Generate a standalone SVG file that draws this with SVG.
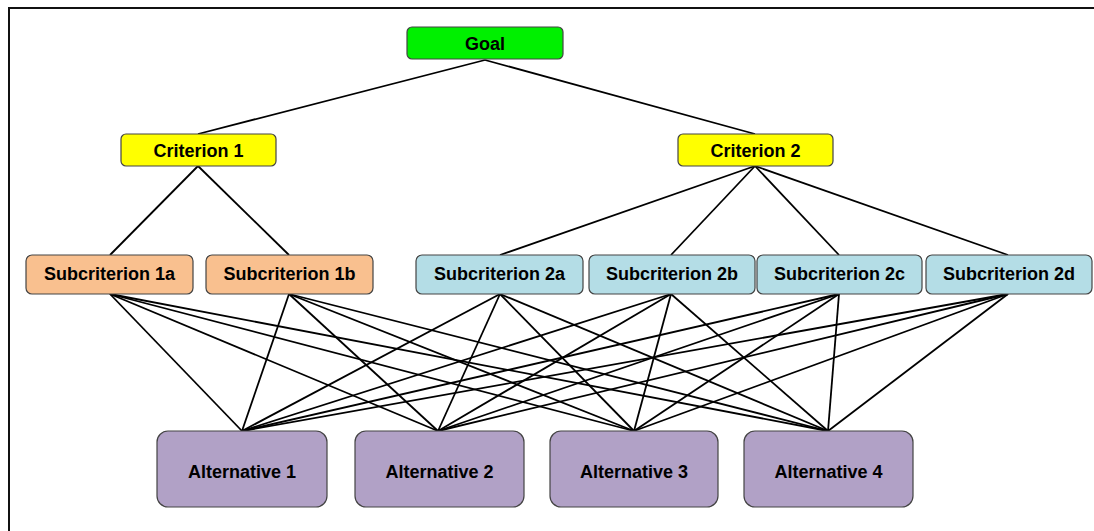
<svg xmlns="http://www.w3.org/2000/svg" width="1094" height="531" viewBox="0 0 1094 531">
  <style>
    .frame { fill: none; stroke: #111; stroke-width: 2; }
    .box { stroke: #444; stroke-width: 1.2; }
    .goal { fill: #00f000; }
    .crit { fill: #ffff00; }
    .sub1 { fill: #f9c08f; }
    .sub2 { fill: #b4dde6; }
    .alt { fill: #b1a1c6; }
    .label { font-family: "Liberation Sans", Arial, sans-serif; font-weight: bold; font-size: 18px; fill: #000; text-anchor: middle; }
    .edges line { stroke: #000; stroke-width: 1.8; }
  </style>
  <rect width="1094" height="531" fill="#fff"/>
  <path class="frame" d="M9,531 V8 H1094"/>

  <g class="edges" id="connectors">
    <!-- goal to criteria -->
    <line x1="485" y1="60" x2="198" y2="134"/>
    <line x1="485" y1="60" x2="755" y2="134"/>
    <!-- criterion 1 to its subcriteria -->
    <line x1="198" y1="166" x2="110" y2="255"/>
    <line x1="198" y1="166" x2="289" y2="255"/>
    <!-- criterion 2 to its subcriteria -->
    <line x1="755" y1="166" x2="500" y2="255"/>
    <line x1="755" y1="166" x2="671" y2="255"/>
    <line x1="755" y1="166" x2="839" y2="255"/>
    <line x1="755" y1="166" x2="1008" y2="255"/>
    <!-- every subcriterion to every alternative -->
    <line x1="110" y1="294" x2="242" y2="431"/>
    <line x1="110" y1="294" x2="438" y2="431"/>
    <line x1="110" y1="294" x2="634" y2="431"/>
    <line x1="110" y1="294" x2="828" y2="431"/>
    <line x1="289" y1="294" x2="242" y2="431"/>
    <line x1="289" y1="294" x2="438" y2="431"/>
    <line x1="289" y1="294" x2="634" y2="431"/>
    <line x1="289" y1="294" x2="828" y2="431"/>
    <line x1="500" y1="294" x2="242" y2="431"/>
    <line x1="500" y1="294" x2="438" y2="431"/>
    <line x1="500" y1="294" x2="634" y2="431"/>
    <line x1="500" y1="294" x2="828" y2="431"/>
    <line x1="671" y1="294" x2="242" y2="431"/>
    <line x1="671" y1="294" x2="438" y2="431"/>
    <line x1="671" y1="294" x2="634" y2="431"/>
    <line x1="671" y1="294" x2="828" y2="431"/>
    <line x1="839" y1="294" x2="242" y2="431"/>
    <line x1="839" y1="294" x2="438" y2="431"/>
    <line x1="839" y1="294" x2="634" y2="431"/>
    <line x1="839" y1="294" x2="828" y2="431"/>
    <line x1="1008" y1="294" x2="242" y2="431"/>
    <line x1="1008" y1="294" x2="438" y2="431"/>
    <line x1="1008" y1="294" x2="634" y2="431"/>
    <line x1="1008" y1="294" x2="828" y2="431"/>
  </g>

  <g id="goal">
    <rect class="box goal" x="407" y="27" width="156" height="32" rx="5"/>
    <text class="label" x="485" y="49.5">Goal</text>
  </g>

  <g id="criterion-1">
    <rect class="box crit" x="121" y="134" width="155" height="32" rx="5"/>
    <text class="label" x="198.5" y="156.5">Criterion 1</text>
  </g>
  <g id="criterion-2">
    <rect class="box crit" x="678" y="134" width="155" height="32" rx="5"/>
    <text class="label" x="755.5" y="156.5">Criterion 2</text>
  </g>

  <g id="subcriterion-1a">
    <rect class="box sub1" x="26" y="255" width="167" height="39" rx="6"/>
    <text class="label" x="109.5" y="280">Subcriterion 1a</text>
  </g>
  <g id="subcriterion-1b">
    <rect class="box sub1" x="206" y="255" width="167" height="39" rx="6"/>
    <text class="label" x="289.5" y="280">Subcriterion 1b</text>
  </g>
  <g id="subcriterion-2a">
    <rect class="box sub2" x="416" y="255" width="167" height="39" rx="6"/>
    <text class="label" x="499.5" y="280">Subcriterion 2a</text>
  </g>
  <g id="subcriterion-2b">
    <rect class="box sub2" x="589" y="255" width="166" height="39" rx="6"/>
    <text class="label" x="672" y="280">Subcriterion 2b</text>
  </g>
  <g id="subcriterion-2c">
    <rect class="box sub2" x="757" y="255" width="165" height="39" rx="6"/>
    <text class="label" x="839.5" y="280">Subcriterion 2c</text>
  </g>
  <g id="subcriterion-2d">
    <rect class="box sub2" x="926" y="255" width="166" height="39" rx="6"/>
    <text class="label" x="1009" y="280">Subcriterion 2d</text>
  </g>

  <g id="alternative-1">
    <rect class="box alt" x="157" y="431" width="170" height="76" rx="11"/>
    <text class="label" x="242" y="478">Alternative 1</text>
  </g>
  <g id="alternative-2">
    <rect class="box alt" x="355" y="431" width="169" height="76" rx="11"/>
    <text class="label" x="439.5" y="478">Alternative 2</text>
  </g>
  <g id="alternative-3">
    <rect class="box alt" x="550" y="431" width="168" height="76" rx="11"/>
    <text class="label" x="634" y="478">Alternative 3</text>
  </g>
  <g id="alternative-4">
    <rect class="box alt" x="744" y="431" width="169" height="76" rx="11"/>
    <text class="label" x="828.5" y="478">Alternative 4</text>
  </g>
</svg>
